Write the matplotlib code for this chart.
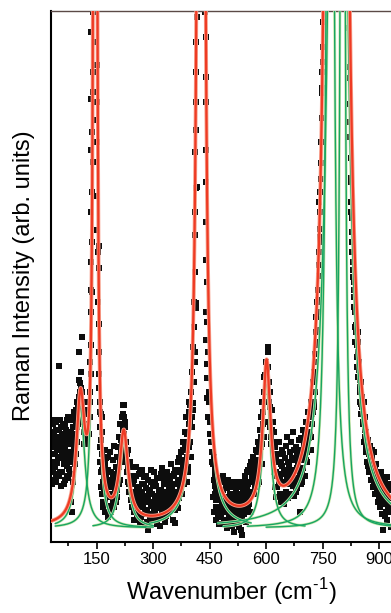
import numpy as np
import matplotlib
matplotlib.use('Agg')
import matplotlib.pyplot as plt
from matplotlib.ticker import MultipleLocator

plt.rcParams['font.family'] = ['Liberation Sans', 'DejaVu Sans']
plt.rcParams['mathtext.fontset'] = 'custom'
plt.rcParams['mathtext.rm'] = 'Liberation Sans'

# ---------------------------------------------------------------
# Lorentzian fit components: centre [cm-1], amplitude, half width
# ---------------------------------------------------------------
centres = [107, 146, 222, 427, 601, 770, 790, 803]
amps    = [122, 3520, 89, 5600, 148, 2380, 2495, 2190]
hwhm    = [13, 2.5, 13.2, 4, 12, 6, 14, 4]
span_lo = [40, 40, 140, 290, 485, 550, 470, 600]
span_hi = [280, 300, 300, 560, 703, 960, 960, 960]
base = 14

# ---------------------------------------------------------------
# measured points (wavenumber, intensity), read off by region
# ---------------------------------------------------------------
pts_left = [(31,95),(32,80),(33,118),(35,72),(36,110),(37,104),(39,88),(40,75),(41,60),
            (43,112),(44,92),(45,79),(47,97),(48,105),(49,66),(51,176),(52,70),(53,122),
            (55,85),(56,98),(57,108),(59,70),(60,118),(61,95),(63,58),(64,84),(65,117),
            (67,80),(68,112),(69,100),(71,64),(72,76),(73,90),(75,125),(76,100),(77,73),
            (79,106),(80,88),(81,40),(83,98),(84,30),(85,84),(87,115),(88,122),(89,92),
            (91,130),(92,108),(93,78),(95,120),(96,132),(97,100),(99,140)]
pts_left2 = [(30,70),(34,100),(38,62),(42,120),(46,68),(50,112),(54,56),(58,90),(62,104),
             (66,62),(70,122),(74,86),(78,68),(82,110),(86,60),(90,100),(94,88),(98,115),
             (31,58),(35,88),(39,122),(43,68),(47,84),(51,100),(55,115),(59,90),(63,78),
             (67,96),(71,110),(75,66),(79,80),(83,124),(87,98),(91,88),(95,105),(99,125)]
pts_p1 = [(101,135),(103,162),(104,190),(105,150),(106,159),(107,128),(108,154),(110,205),
          (111,138),(113,125),(115,110),(117,132),(119,98),(121,118),(123,105),(125,128),
          (127,112),(129,140),(131,150),(132,125),(134,168),(100,118),(102,145),(106,140),
          (109,170),(112,150),(114,120),(116,98),(118,115),(120,132),(122,100),(124,140),
          (126,118),(128,130),(130,108),(133,140)]
pts_p2 = [(135,197),(135,252),(135,443),(135,510),(134,392),(136,168),(137,300),(138,350),
          (139,470),(141,530),(144,530),(150,477),(149,422),(151,400),(152,346),(151,312),
          (157,296),(155,274),(156,218),(155,168),(157,154),(158,130),(160,115),(162,102),
          (164,125),(133,180),(134,230),(136,330),(136,280),(137,410),(138,250),(139,380),
          (140,450),(148,500),(150,440),(152,380),(153,290),(154,240),(156,190),(159,140),
          (161,128),(163,110)]
pts_mid = [(160,95),(162,70),(163,48),(165,88),(166,60),(167,35),(168,78),(170,52),(171,92),
           (172,40),(174,66),(175,30),(176,84),(178,56),(179,45),(180,72),(182,28),(183,62),
           (185,90),(186,48),(188,36),(189,70),(191,55),(192,82),(194,42),(195,64),(197,96),
           (198,50),(200,75),(201,40),(203,85),(204,60),(159,80),(161,55),(164,72),(166,40),
           (169,65),(171,30),(173,78),(175,50),(177,62),(179,25),(181,85),(183,45),(184,70),
           (187,58),(189,30),(190,48),(193,66),(196,35),(199,58),(202,68),(205,45)]
pts_p3 = [(206,70),(207,95),(209,58),(210,105),(212,80),(213,118),(215,90),(216,125),(218,100),
          (219,137),(220,112),(221,128),(222,108),(223,137),(224,120),(225,95),(226,115),
          (227,80),(229,100),(230,70),(231,88),(233,60),(235,78),(236,50),(238,66),(240,42),
          (242,58),(244,75),(205,52),(208,75),(211,62),(214,102),(217,84),(220,95),(223,125),
          (228,90),(232,76),(234,92),(237,58),(239,80),(241,50),(243,64)]
pts_band = [(246,48),(248,30),(250,62),(252,40),(254,75),(256,25),(258,55),(260,38),(262,68),
            (264,20),(266,50),(268,35),(270,72),(272,44),(274,28),(276,58),(278,18),(280,46),
            (282,66),(284,32),(286,12),(288,52),(290,40),(292,24),(294,60),(296,36),(298,48),
            (300,22),(302,70),(304,42),(306,30),(308,56),(310,18),(312,46),(314,64),(316,34),
            (318,26),(320,52),(322,40),(324,74),(326,30),(328,58),(330,45),(332,20),(334,66),
            (336,38),(338,50),(340,28),(342,62),(344,44),(346,35),(348,78),(350,54),(352,22),
            (354,68),(356,40),(358,19),(360,58),(362,46),(364,72),(366,34),(368,84),(370,52),
            (372,62),(374,90),(376,48),(378,75),(380,100),(382,66),(384,110),(386,80),
            (388,125),(390,92),(392,70),(394,118)]
pts_band2 = [(245,35),(247,60),(249,22),(251,50),(253,38),(255,66),(257,45),(259,28),(261,55),
             (263,40),(265,70),(267,25),(269,48),(271,58),(273,36),(275,65),(277,42),(279,30),
             (281,54),(283,20),(285,44),(287,62),(289,28),(291,50),(293,38),(295,72),(297,26),
             (299,56),(301,40),(303,32),(305,60),(307,46),(309,24),(311,64),(313,38),(315,52),
             (317,16),(319,44),(321,68),(323,30),(325,50),(327,40),(329,62),(331,34),(333,48),
             (335,26),(337,70),(339,42),(341,56),(343,30),(345,64),(347,48),(349,38),(351,66),
             (353,44),(355,58),(357,32),(359,72),(361,50),(363,38),(365,62),(367,80),(369,44),
             (371,70),(373,56),(375,82),(377,64),(379,92),(381,58),(383,78),(385,96),(387,70),
             (389,108),(391,85),(393,100),(395,130)]
pts_p4 = [(388,70),(390,60),(392,75),(395,95),(398,137),(398,100),(400,85),(402,115),(405,139),
          (405,132),(407,160),(411,190),(411,180),(412,307),(413,239),(413,234),(414,354),
          (414,412),(416,355),(414,470),(415,525),(438,530),(439,465),(439,392),(439,282),
          (440,230),(441,202),(442,178),(443,164),(444,144),(446,125),(451,108),(456,90),
          (457,80),(464,65),(466,50),(396,140),(399,120),(401,150),(403,170),(404,125),
          (406,195),(408,215),(409,240),(410,270),(411,330),(412,390),(413,440),(413.5,500),
          (440,505),(440,440),(440.5,360),(441,320),(442,260),(443,220),(445,190),(447,150),
          (449,140),(452,120),(454,100),(459,78),(461,85),(463,72)]
pts_valley = [(461,62),(463,48),(465,70),(467,35),(469,55),(471,25),(473,44),(475,60),(477,30),
              (479,18),(481,50),(483,38),(485,66),(487,22),(489,45),(491,32),(493,58),(495,14),
              (497,40),(499,62),(501,28),(503,48),(505,20),(507,36),(509,55),(511,26),(513,42),
              (515,10),(517,40),(519,30),(521,52),(523,18),(525,45),(527,34),(529,60),(531,24),
              (533,12),(535,7),(537,38),(539,50),(541,28),(543,66),(545,40),(547,20),(549,55),
              (551,34),(553,72),(555,46),(557,60),(559,30),(561,68),(563,50)]
pts_valley2 = [(460,45),(462,30),(464,56),(466,22),(468,42),(470,60),(472,35),(474,18),(476,48),
               (478,64),(480,28),(482,40),(484,52),(486,34),(488,60),(490,20),(492,42),(494,30),
               (496,54),(498,22),(500,44),(502,36),(504,58),(506,30),(508,16),(510,42),(512,60),
               (514,28),(516,48),(518,20),(520,36),(522,56),(524,28),(526,40),(528,15),(530,48),
               (532,30),(534,55),(536,22),(538,44),(540,60),(542,36),(544,50),(546,30),(548,70),
               (550,44),(552,58),(554,38),(556,76),(558,50),(560,80),(562,62),(564,74)]
pts_p5 = [(566,60),(568,48),(569,75),(571,55),(573,92),(574,70),(576,68),(578,100),(580,82),
          (582,60),(583,112),(585,95),(587,125),(588,78),(589,140),(591,118),(593,150),
          (594,105),(595,165),(597,140),(598,167),(600,180),(600,157),(602,150),(605,195),
          (605,190),(607,160),(609,150),(611,135),(613,120),(614,98),(616,132),(618,100),
          (620,110),(622,85),(565,85),(567,72),(570,62),(572,80),(575,90),(577,58),(579,72),
          (581,95),(584,80),(586,105),(590,98),(592,130),(596,120),(599,140),(603,172),
          (606,175),(608,140),(610,115),(612,105),(615,112),(617,88),(619,120)]
pts_shoulder = [(624,95),(626,70),(628,55),(630,88),(632,45),(634,100),(636,62),(638,78),
                (640,40),(642,92),(644,58),(646,72),(648,38),(650,84),(652,50),(654,66),
                (656,105),(658,44),(660,76),(662,60),(664,90),(666,48),(668,70),(670,110),
                (672,56),(674,82),(676,64),(678,95),(680,50),(682,74),(684,88),(686,62),
                (688,102),(690,30),(692,58),(694,92),(696,70),(698,112),(700,84),(702,66),
                (704,98),(706,120),(708,80),(710,105),(712,130),(714,92)]
pts_shoulder2 = [(621,70),(623,55),(625,82),(627,45),(629,66),(631,100),(633,58),(635,80),
                 (637,48),(639,68),(641,76),(643,44),(645,88),(647,60),(649,70),(651,46),
                 (653,96),(655,58),(657,80),(659,64),(661,48),(663,72),(665,100),(667,58),
                 (669,84),(671,66),(673,46),(675,92),(677,72),(679,60),(681,86),(683,54),
                 (685,76),(687,90),(689,68),(691,82),(693,104),(695,60),(697,88),(699,74),
                 (701,96),(703,110),(705,82),(707,100),(709,90),(711,118),(713,104),(715,125)]
pts_p6 = [(716,110),(718,92),(720,105),(722,118),(724,130),(726,140),(727,170),(728,150),
          (729,188),(730,165),(731,180),(732,197),(735,212),(738,242),(738,252),(740,266),
          (740,277),(743,305),(743,313),(743,330),(746,363),(746,379),(747,424),(748,449),
          (748,454),(751,480),(751,495),(821,514),(821,475),(821,464),(822,438),(822,405),
          (824,384),(825,364),(825,340),(828,324),(828,300),(830,272),(830,265),(833,252),
          (833,245),(836,230),(838,217),(841,197),(844,210),(844,190),(846,172),(849,162),
          (849,150),(852,150),(852,138),(717,125),(719,140),(721,128),(723,150),(725,160),
          (727,135),(729,150),(731,210),(733,225),(734,200),(736,240),(737,230),(739,290),
          (741,340),(742,300),(744,350),(745,400),(749,470),(750,520),(823,420),(824,360),
          (826,330),(827,310),(829,290),(831,280),(832,260),(834,235),(835,215),(837,200),
          (839,210),(840,185),(842,175),(843,200),(845,165),(847,180),(848,155),(850,140),
          (851,160),(853,128),(854,145)]
pts_tail = [(855,135),(858,118),(860,100),(862,125),(864,95),(866,110),(868,80),(870,102),
            (872,88),(874,70),(876,96),(878,62),(880,84),(882,72),(884,55),(886,90),(888,66),
            (890,48),(892,78),(894,58),(896,40),(898,70),(900,52),(902,35),(904,64),(906,45),
            (908,28),(910,12),(912,56),(914,38),(916,60),(918,30),(920,48),(922,22),(924,52),
            (926,35),(928,44),(930,15),(856,120),(859,140),(861,112),(863,105),(865,90),
            (867,98),(869,92),(871,76),(873,95),(875,84),(877,74),(879,70),(881,92),(883,64),
            (885,78),(887,58),(889,72),(891,62),(893,50),(895,68),(897,56),(899,44),(901,62),
            (903,50),(905,70),(907,42),(909,56),(911,40),(913,48),(915,26),(917,50),(919,40),
            (921,65),(923,36),(925,44),(927,58),(929,30)]

groups = [pts_left, pts_left2, pts_p1, pts_p2, pts_mid, pts_p3, pts_band, pts_band2,
          pts_p4, pts_valley, pts_valley2, pts_p5, pts_shoulder, pts_shoulder2, pts_p6,
          pts_tail]
pts = np.array([p for g in groups for p in g], float)


def lorentz(x, x0, a, g):
    return a * g**2 / ((x - x0)**2 + g**2)


# ---------------------------------------------------------------
# figure
# ---------------------------------------------------------------
W, H = 391, 613
fig = plt.figure(figsize=(W/100, H/100), dpi=100)
ax = fig.add_axes([51.5/W, 71/H, 350.3/W, 531/H])

RED = '#ee3b24'
GREEN = '#17a562'

ax.plot(pts[:, 0], pts[:, 1], 's', color='#0d0d0d', ms=3.8, mew=0, zorder=2)

for x0, a, g, lo, hi in zip(centres, amps, hwhm, span_lo, span_hi):
    xs = np.linspace(lo, hi, 3000)
    ys = base + lorentz(xs, x0, a, g)
    ax.plot(xs, ys, color='#cfe8b0', lw=2.0, zorder=3, solid_capstyle='butt')
    ax.plot(xs, ys, color=GREEN, lw=1.0, zorder=4)

xf = np.linspace(30, 960, 12000)
yf = base + sum(lorentz(xf, x0, a, g) for x0, a, g in zip(centres, amps, hwhm))
ax.plot(xf, yf, color='#f8a28f', lw=2.8, zorder=5)
ax.plot(xf, yf, color=RED, lw=1.6, zorder=6)

ax.set_xlim(30, 960)
ax.set_ylim(0, 531)
ax.set_yticks([])
ax.xaxis.set_major_locator(MultipleLocator(150))
ax.xaxis.set_minor_locator(MultipleLocator(75))
ax.tick_params(axis='x', which='major', direction='out', length=5, width=1.2,
               labelsize=12, pad=2)
ax.tick_params(axis='x', which='minor', direction='out', length=3, width=1.2)

ax.spines['right'].set_visible(False)
ax.spines['left'].set_linewidth(1.5)
ax.spines['bottom'].set_linewidth(1.5)
ax.spines['top'].set_linewidth(1.0)
ax.spines['top'].set_color('#5b4a47')

fig.text(24.5/W, 1 - 276/H, 'Raman Intensity (arb. units)', rotation=90,
         ha='center', va='center', fontsize=17)
fig.text(231/W, 13/H, 'Wavenumber (cm$^{\u2010 1}$)', ha='center', va='baseline',
         fontsize=17)

fig.savefig('out.png', dpi=100)
